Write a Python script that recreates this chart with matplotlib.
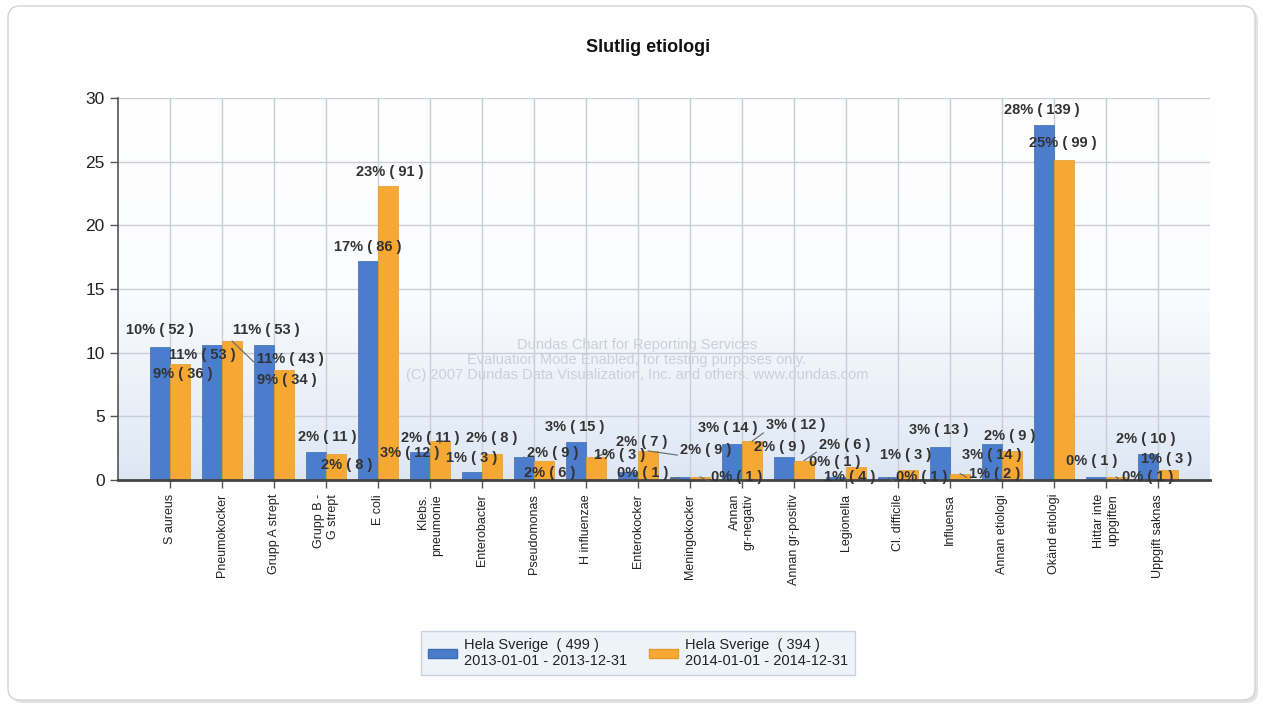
import matplotlib
matplotlib.use('Agg')
import matplotlib.pyplot as plt
import numpy as np
from matplotlib.colors import LinearSegmentedColormap
from matplotlib.patches import FancyBboxPatch, Patch

plt.rcParams['font.family'] = ['Liberation Sans', 'DejaVu Sans']

# data (counts per etiology)
categories = ['S aureus', 'Pneumokocker', 'Grupp A strept', 'Grupp B -\nG strept', 'E coli',
              'Klebs.\npneumonie', 'Enterobacter', 'Pseudomonas', 'H influenzae', 'Enterokocker',
              'Meningokocker', 'Annan\ngr-negativ', 'Annan gr-positiv', 'Legionella', 'Cl. difficile',
              'Influensa', 'Annan etiologi', 'Okänd etiologi', 'Hittar inte\nuppgiften', 'Uppgift saknas']
counts_2013 = [52, 53, 53, 11, 86, 11, 3, 9, 15, 3, 1, 14, 9, 1, 1, 13, 14, 139, 1, 10]
counts_2014 = [36, 43, 34, 8, 91, 12, 8, 6, 7, 9, 1, 12, 6, 4, 3, 2, 9, 99, 1, 3]
total_2013 = 499
total_2014 = 394
series_names = ['Hela Sverige  ( 499 )\n2013-01-01 - 2013-12-31',
                'Hela Sverige  ( 394 )\n2014-01-01 - 2014-12-31']
yticks = [0, 5, 10, 15, 20, 25, 30]

# label displacement (pixels) used by the original chart's smart labels
off_2013 = [(0, 17), (-10, -10), (2, 15), (11, 15), (0, 14), (10, 14), (0, 14), (29, 4), (-1, 15), (-8, 17),
            (-37, 4), (-4, 16), (-4, 10), (-1, 15), (34, 0), (-1, 17), (0, -11), (-2, 15), (-4, 16), (-2, 15)]
off_2014 = [(3, -10), (58, -18), (3, -10), (11, -11), (2, 14), (-30, -12), (0, 16), (6, -12), (46, 15), (58, 1),
            (37, 0), (44, 16), (41, 16), (-6, -10), (-2, 15), (35, 0), (-2, 15), (-1, 17), (32, 0), (-1, 11)]

blue = '#4b7dcc'
orange = '#f6a833'
txt = '#333333'

pct_2013 = [100.0 * n / total_2013 for n in counts_2013]
pct_2014 = [100.0 * n / total_2014 for n in counts_2014]

fig = plt.figure(figsize=(12.63, 7.06), dpi=100)

# rounded panel with a soft shadow (kept behind the axes)
fig.patches.append(FancyBboxPatch((0.11, 0.03), 12.47, 6.94, boxstyle='round,pad=0,rounding_size=0.12',
                                  transform=fig.dpi_scale_trans, facecolor='#e2e2e2', edgecolor='none',
                                  zorder=-10))
fig.patches.append(FancyBboxPatch((0.08, 0.06), 12.47, 6.94, boxstyle='round,pad=0,rounding_size=0.12',
                                  transform=fig.dpi_scale_trans, facecolor='white', edgecolor='#d4d4d4', lw=1,
                                  zorder=-9))

ax = fig.add_axes([118 / 1263, 226 / 706, 1092 / 1263, 382 / 706])
x = np.arange(len(categories))
w = 0.385

cmap = LinearSegmentedColormap.from_list('bg', ['#dde7f4', '#fbfcfe', '#ffffff'])
ax.imshow(np.linspace(0, 1, 256).reshape(-1, 1), extent=[-1, 20, 0, 30], aspect='auto',
          origin='lower', cmap=cmap, zorder=0)

ax.bar(x - w / 2, pct_2013, w, color=blue, edgecolor='#3f6db5', lw=0.5, zorder=3)
ax.bar(x + w / 2, pct_2014, w, color=orange, edgecolor='#e39a2a', lw=0.5, zorder=3)


def put_label(xx, val, n, off):
    p = dict(xytext=off, textcoords='offset pixels', ha='center', va='center',
             fontsize=10.5, fontweight='bold', color=txt, zorder=5)
    if abs(off[0]) >= 29:
        # displaced label, tie it back to its bar
        p['arrowprops'] = dict(arrowstyle='-', color='#666666', lw=0.8, shrinkA=0, shrinkB=0,
                               relpos=(0 if off[0] > 0 else 1, 0.1))
    ax.annotate('%d%% ( %d )' % (round(val), n), (xx, val), **p)


for i in range(len(categories)):
    put_label(x[i] - w / 2, pct_2013[i], counts_2013[i], off_2013[i])
    put_label(x[i] + w / 2, pct_2014[i], counts_2014[i], off_2014[i])

ax.set_xlim(-1, 20)
ax.set_ylim(0, 30)
ax.set_yticks(yticks)
ax.set_xticks(x)
ax.set_xticklabels(categories, rotation=90, fontsize=9, color='#222222', va='top', ha='center',
                   multialignment='right')
ax.tick_params(axis='y', labelsize=12.5, length=6, width=1, color='#555555', labelcolor='#222222')
ax.tick_params(axis='x', length=6, width=1, color='#555555', pad=4)
ax.grid(True, color='#c9cdd5', lw=1, zorder=1)
ax.set_axisbelow(True)
for s in ['top', 'right']:
    ax.spines[s].set_visible(False)
ax.spines['left'].set_color('#555555')
ax.spines['left'].set_linewidth(1.2)
ax.spines['bottom'].set_color('#444444')
ax.spines['bottom'].set_linewidth(2)
ax.spines['bottom'].set_zorder(4)

ax.text(8.98, 9.4, 'Dundas Chart for Reporting Services\nEvaluation Mode Enabled, for testing purposes only.\n'
        '(C) 2007 Dundas Data Visualization, Inc. and others. www.dundas.com',
        ha='center', va='center', fontsize=10.5, color='#c9d0dc', linespacing=1.1, zorder=2)

fig.text(648 / 1263, 1 - 48 / 706, 'Slutlig etiologi', ha='center', va='center', fontsize=13,
         fontweight='bold', color='#111111')

handles = [Patch(facecolor=blue, edgecolor='#3f6db5'), Patch(facecolor=orange, edgecolor='#e39a2a')]
leg = fig.legend(handles, series_names, loc='center', bbox_to_anchor=(638 / 1263, 1 - 653 / 706), ncol=2,
                 fontsize=10.5, frameon=True, fancybox=False, framealpha=1, edgecolor='#c8d2de',
                 facecolor='#eef3fa', handlelength=2.0, handleheight=0.6, columnspacing=1.5,
                 handletextpad=0.45, borderpad=0.5)
for t in leg.get_texts():
    t.set_color('#222222')

fig.savefig('out.png', dpi=100)
